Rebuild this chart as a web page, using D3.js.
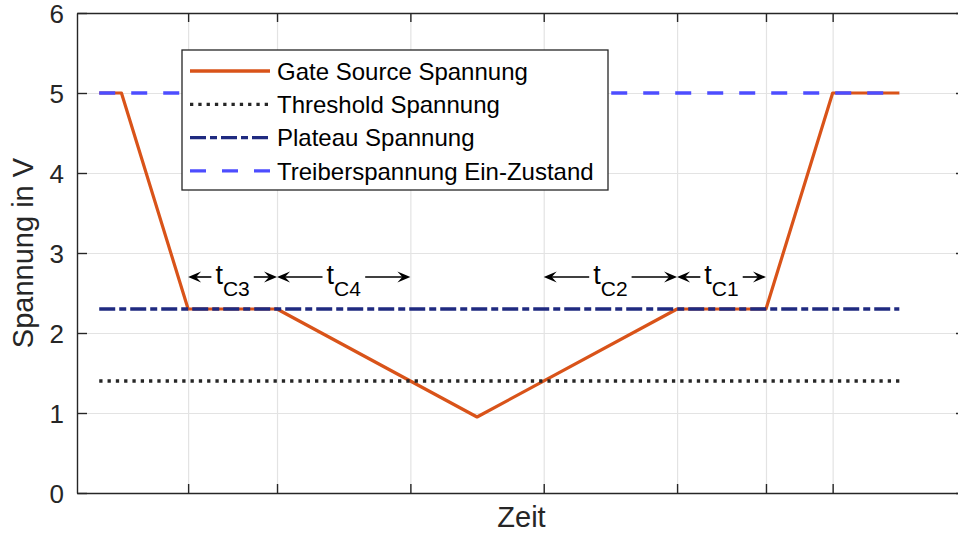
<!DOCTYPE html>
<html>
<head>
<meta charset="utf-8">
<script src="https://cdn.jsdelivr.net/npm/d3@7"></script>
<style>
  body { margin: 0; background: #fff; overflow: hidden; }
  svg { display: block; font-family: "Liberation Sans", Arial, Helvetica, sans-serif; }
</style>
</head>
<body>
<div id="plot"></div>
<script>
// Data
const gateT = [0, 1, 4, 8, 17, 26, 30, 33, 36];
const gateV = [5, 5, 2.3, 2.3, 0.95, 2.3, 2.3, 5, 5];
const lineT = [0, 36];
const thresholdV = 1.4;
const plateauV = 2.3;
const driverV = 5;
const xTicks = [4, 8, 14, 20, 26, 30, 33];
const yTicks = [0, 1, 2, 3, 4, 5, 6];
const spanNames = ["C3", "C4", "C2", "C1"];
const spanStart = [4, 8, 20, 26];
const spanEnd = [8, 14, 26, 30];
const spanLevel = 2.7;
const legendNames = ["Gate Source Spannung", "Threshold Spannung", "Plateau Spannung", "Treiberspannung Ein-Zustand"];

const W = 958, H = 534;
const margin = { top: 13, right: -8, bottom: 41, left: 77 },
      width = W - margin.left - margin.right,
      height = H - margin.top - margin.bottom;

const axisColor = "#262626";

const svg = d3.select("#plot")
  .append("svg")
    .attr("width", W)
    .attr("height", H)
  .append("g")
    .attr("transform", `translate(${margin.left},${margin.top})`);

const x = d3.scaleLinear().domain([-1, 39]).range([0, width]);
const y = d3.scaleLinear().domain([0, 6]).range([height, 0]);

// Grid
svg.append("g")
  .attr("class", "grid")
  .attr("transform", `translate(0,${height})`)
  .call(d3.axisBottom(x).tickValues(xTicks).tickSize(-height).tickFormat(""))
  .call(g => g.select(".domain").remove())
  .selectAll("line").attr("stroke", "#e3e3e3").attr("stroke-width", 1.2);
svg.append("g")
  .attr("class", "grid")
  .call(d3.axisLeft(y).tickValues(yTicks).tickSize(-width).tickFormat(""))
  .call(g => g.select(".domain").remove())
  .selectAll("line").attr("stroke", "#e3e3e3").attr("stroke-width", 1.2);

// Lines
const gateData = gateT.map((t, i) => ({ t: t, v: gateV[i] }));
const line = d3.line().x(d => x(d.t)).y(d => y(d.v));

svg.append("path")
  .datum(gateData)
  .attr("d", line)
  .attr("fill", "none")
  .attr("stroke", "#D95319")
  .attr("stroke-width", 3.2)
  .attr("stroke-linejoin", "round");

const flat = v => lineT.map(t => ({ t: t, v: v }));

svg.append("path")
  .datum(flat(thresholdV))
  .attr("d", line)
  .attr("fill", "none")
  .attr("stroke", "#262626")
  .attr("stroke-width", 3.3)
  .attr("stroke-dasharray", "3.3,5");

svg.append("path")
  .datum(flat(plateauV))
  .attr("d", line)
  .attr("fill", "none")
  .attr("stroke", "#1f2a80")
  .attr("stroke-width", 3.3)
  .attr("stroke-dasharray", "16,4,7,4");

svg.append("path")
  .datum(flat(driverV))
  .attr("d", line)
  .attr("fill", "none")
  .attr("stroke", "#4d4dff")
  .attr("stroke-width", 3.3)
  .attr("stroke-dasharray", "16,16");

// Axes (ticks inward, box on all sides)
function styleAxis(g) {
  g.select(".domain").attr("stroke", axisColor).attr("stroke-width", 1.4);
  g.selectAll(".tick line").attr("stroke", axisColor).attr("stroke-width", 1.4);
  g.selectAll(".tick text").attr("fill", axisColor).style("font-size", "26px");
}
svg.append("g")
  .attr("transform", `translate(0,${height})`)
  .call(d3.axisBottom(x).tickValues(xTicks).tickSizeInner(-9).tickSizeOuter(0).tickFormat(""))
  .call(styleAxis);
svg.append("g")
  .call(d3.axisTop(x).tickValues(xTicks).tickSizeInner(-9).tickSizeOuter(0).tickFormat(""))
  .call(styleAxis);
svg.append("g")
  .call(d3.axisLeft(y).tickValues(yTicks).tickSizeInner(-10).tickSizeOuter(0).tickPadding(13).tickFormat(d3.format("d")))
  .call(styleAxis)
  .selectAll(".tick text").attr("dy", "0.36em");
svg.append("g")
  .attr("transform", `translate(${width},0)`)
  .call(d3.axisRight(y).tickValues(yTicks).tickSizeInner(-10).tickSizeOuter(0).tickFormat(""))
  .call(styleAxis);

// Axis labels
svg.append("text")
  .attr("x", width / 2)
  .attr("y", height + 34)
  .attr("text-anchor", "middle")
  .attr("fill", axisColor)
  .style("font-size", "29px")
  .text("Zeit");
svg.append("text")
  .attr("transform", `translate(${-44},${height / 2}) rotate(-90)`)
  .attr("text-anchor", "middle")
  .attr("fill", axisColor)
  .style("font-size", "29px")
  .text("Spannung in V");

// Time span annotations: arrow - t_Cx - arrow
function arrowHead(px, py, dir) {
  // notched head, tip at (px, py), dir = -1 points left, +1 points right
  const L = 13, h = 5.5, n = 8;
  return `M${px},${py} L${px - dir * L},${py - h} L${px - dir * n},${py} L${px - dir * L},${py + h} Z`;
}

spanNames.forEach((name, i) => {
  const x0 = x(spanStart[i]), x1 = x(spanEnd[i]);
  const cx = (x0 + x1) / 2;
  const ay = y(spanLevel);
  const label = svg.append("text")
    .attr("x", cx)
    .attr("y", ay + 7)
    .attr("text-anchor", "middle")
    .attr("fill", "#000")
    .style("font-size", "27px");
  label.append("tspan").text("t");
  label.append("tspan")
    .attr("dy", 12)
    .style("font-size", "21px")
    .text(name);
  const bb = label.node().getBBox();
  const gap = 4;
  const g = svg.append("g").attr("fill", "#000").attr("stroke", "#000");
  g.append("line")
    .attr("x1", x0 + 6).attr("x2", bb.x - gap)
    .attr("y1", ay).attr("y2", ay)
    .attr("stroke-width", 1.6);
  g.append("line")
    .attr("x1", bb.x + bb.width + gap).attr("x2", x1 - 6)
    .attr("y1", ay).attr("y2", ay)
    .attr("stroke-width", 1.6);
  g.append("path").attr("d", arrowHead(x0, ay, -1)).attr("stroke", "none");
  g.append("path").attr("d", arrowHead(x1, ay, 1)).attr("stroke", "none");
});

// Legend
const legX = 182 - margin.left, legY = 50 - margin.top;
const legW = 426, legH = 140;
const legend = svg.append("g").attr("transform", `translate(${legX},${legY})`);
legend.append("rect")
  .attr("width", legW)
  .attr("height", legH)
  .attr("fill", "#fff")
  .attr("stroke", axisColor)
  .attr("stroke-width", 1.3);

const legStyles = [
  { color: "#D95319", dash: null },
  { color: "#262626", dash: "3.3,5" },
  { color: "#1f2a80", dash: "16,4,7,4" },
  { color: "#4d4dff", dash: "16,16" }
];
legendNames.forEach((name, i) => {
  const ry = 21 + i * 33.3;
  legend.append("line")
    .attr("x1", 8).attr("x2", 88)
    .attr("y1", ry).attr("y2", ry)
    .attr("stroke", legStyles[i].color)
    .attr("stroke-width", 3.3)
    .attr("stroke-dasharray", legStyles[i].dash);
  legend.append("text")
    .attr("x", 95)
    .attr("y", ry)
    .attr("dy", "0.36em")
    .attr("fill", "#000")
    .style("font-size", "24px")
    .text(name);
});
</script>
</body>
</html>
